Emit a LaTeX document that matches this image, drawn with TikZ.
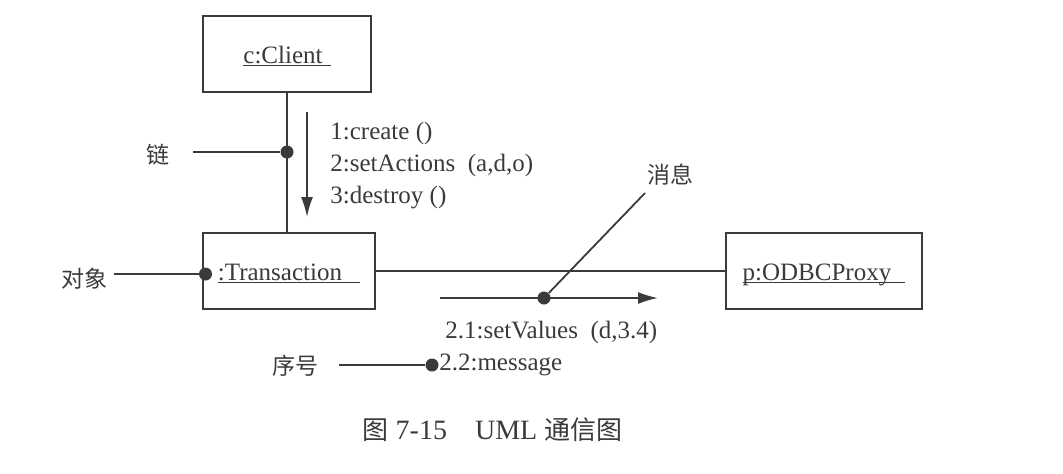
\documentclass[tikz,border=0pt]{standalone}
\usepackage{fontspec}
\setmainfont{Liberation Serif}
\newfontfamily\cjk{Noto Sans CJK SC}
\usepackage{tikz}
\usetikzlibrary{positioning, arrows.meta}
\definecolor{ink}{RGB}{58,58,58}

\begin{document}
\begin{tikzpicture}[
    x=0.5pt, y=-0.5pt,
    obj/.style={rectangle, draw=ink, line width=0.9pt, minimum height=38pt, inner sep=0pt, text height=9pt, text depth=0pt, text=ink, font=\fontsize{12.5}{15}\selectfont},
    msg/.style={anchor=west, inner sep=0pt, text=ink, font=\fontsize{12.5}{15}\selectfont},
    note/.style={inner sep=0pt, text=ink, font=\cjk\fontsize{11.5}{14}\selectfont},
    blob/.style={circle, fill=ink, inner sep=0pt, minimum size=6.5pt},
    wire/.style={draw=ink, line width=0.9pt},
    ]
   \useasboundingbox (0,0) rectangle (1063,473);

   % Objects.
   \node[obj, minimum width=84pt] (client) at (287,54) {\underline{\smash{c:Client}\hspace{4pt}}};
   \node[obj, minimum width=86pt] (trans) at (289,271) {\underline{\smash{:Transaction}\hspace{9pt}}};
   \node[obj, minimum width=98pt] (proxy) at (824,271) {\underline{\smash{p:ODBCProxy}\hspace{7pt}}};

   % Links.
   \draw[wire] (client) -- (client |- trans.north);
   \draw[wire] (trans) -- (proxy);

   % Messages.
   \coordinate (a_top) at (307,112);
   \coordinate (a_bot) at (307,217);
   \draw[wire, -{Latex[length=10pt, width=6pt]}] (a_top) -- (a_bot);
   \node[msg] (m_create) at (330,133) {1:create ()};
   \node[msg, below=16.25pt of m_create.west, anchor=west] (m_set) {2:setActions\ \ (a,d,o)};
   \node[msg, below=16.25pt of m_set.west, anchor=west] (m_destroy) {3:destroy ()};

   \coordinate (b_left) at (440,298);
   \coordinate (b_right) at (658,298);
   \draw[wire, -{Latex[length=10pt, width=6pt]}] (b_left) -- (b_right);
   \node[msg] (m_values) at (445,332) {2.1:setValues\ \ (d,3.4)};

   % Notes.
   \node[blob] (d_link) at (287,152) {};
   \node[note] (l_link) at (158,155) {链};
   \coordinate (e_link) at (193,152);
   \draw[wire] (e_link) -- (d_link);

   \node[blob] (d_obj) at (205.5,274) {};
   \node[note] (l_obj) at (84,279) {对象};
   \coordinate (e_obj) at (114,274);
   \draw[wire] (e_obj) -- (d_obj);

   \node[blob] (d_msg) at (544,298) {};
   \node[note] (l_msg) at (670,175) {消息};
   \coordinate (e_msg) at (645,193);
   \draw[wire] (d_msg) -- (e_msg);

   \node[blob] (d_seq) at (432,365) {};
   \node[note] (l_seq) at (295,366) {序号};
   \coordinate (e_seq) at (339,365);
   \draw[wire] (e_seq) -- (d_seq);
   \node[msg, right=0pt of d_seq] (m_message) {2.2:message};

   % Caption.
   \node[text=ink, font=\fontsize{14}{16}\selectfont] (caption) at (492.5,430) {{\cjk\fontsize{13}{16}\selectfont 图} 7-15\quad UML {\cjk\fontsize{13}{16}\selectfont 通信图}};
\end{tikzpicture}
\end{document}
